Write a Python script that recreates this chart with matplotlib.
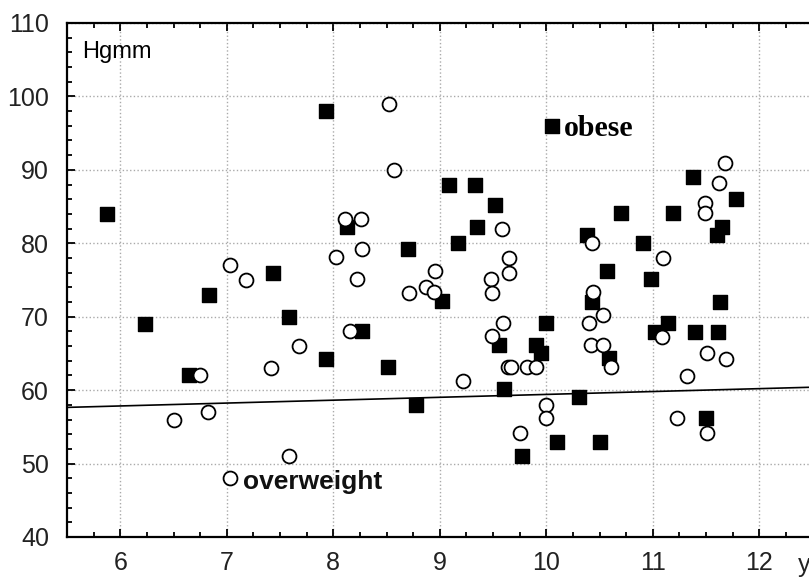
import numpy as np
import matplotlib.pyplot as plt
from matplotlib.ticker import MultipleLocator

# obese group (filled squares)
obese_x = [5.88, 6.23, 6.65, 6.83, 7.43, 7.58, 7.93, 7.93, 8.13, 8.27, 8.51, 8.70,
           8.78, 9.02, 9.09, 9.17, 9.33, 9.35, 9.52, 9.56, 9.60, 9.77, 9.90, 9.95,
           10.00, 10.05, 10.10, 10.31, 10.38, 10.43, 10.50, 10.57, 10.59, 10.70,
           10.91, 10.98, 11.02, 11.14, 11.19, 11.38, 11.40, 11.50, 11.60, 11.61,
           11.63, 11.65, 11.78]
obese_y = [84, 69, 62, 73, 76, 70, 64.2, 98, 82.2, 68, 63.2, 79.2,
           58, 72.1, 88, 80, 88, 82.2, 85.2, 66.2, 60.1, 51, 66.2, 65.1,
           69.1, 96, 53, 59.1, 81.1, 72, 53, 76.2, 64.4, 84.1,
           80, 75.1, 67.9, 69.1, 84.1, 89, 67.9, 56.2, 81.1, 67.9,
           72, 82.2, 86]

# overweight group (open circles)
over_x = [6.50, 6.75, 6.82, 7.03, 7.03, 7.18, 7.42, 7.58, 7.68, 8.03, 8.11, 8.16,
          8.22, 8.26, 8.27, 8.52, 8.57, 8.71, 8.87, 8.95, 8.96, 9.22, 9.48, 9.49,
          9.49, 9.58, 9.59, 9.64, 9.65, 9.65, 9.67, 9.75, 9.82, 9.90, 10.00, 10.00,
          10.40, 10.43, 10.42, 10.44, 10.53, 10.53, 10.61, 11.10, 11.09, 11.23,
          11.32, 11.49, 11.49, 11.51, 11.51, 11.62, 11.68, 11.69]
over_y = [56, 62, 57, 77, 48, 75, 63, 51, 66, 78.1, 83.3, 68,
          75.1, 83.3, 79.2, 99, 90, 73.2, 74, 73.4, 76.2, 61.2, 75.2, 73.2,
          67.4, 82, 69.1, 63.2, 78, 76, 63.2, 54.2, 63.2, 63.2, 58, 56.2,
          69.1, 80, 66.1, 73.3, 70.2, 66.1, 63.2, 78, 67.2, 56.2,
          61.9, 85.5, 84.1, 65, 54.2, 88.2, 91, 64.2]

# regression line end points
line_x = [5.5, 12.5]
line_y = [57.65, 60.4]

fig = plt.figure(figsize=(8.09, 5.88), dpi=100)
ax = fig.add_axes([67/809, 51/588, 745.5/809, 514/588])

ax.plot(line_x, line_y, color='black', lw=1.2, zorder=2)
ax.scatter(obese_x, obese_y, marker='s', s=112, color='black', zorder=3)
ax.scatter(over_x, over_y, marker='o', s=100, facecolor='white',
           edgecolor='black', linewidth=1.3, zorder=4)

ax.set_xlim(5.5, 12.5)
ax.set_ylim(40, 110)
ax.xaxis.set_major_locator(MultipleLocator(1))
ax.xaxis.set_minor_locator(MultipleLocator(0.25))
ax.yaxis.set_major_locator(MultipleLocator(10))
ax.yaxis.set_minor_locator(MultipleLocator(2))
ax.set_xticks(range(6, 13))

ax.grid(True, which='major', linestyle=':', color='#aaaaaa', lw=1)
ax.set_axisbelow(True)

for side in ['left', 'bottom', 'top']:
    ax.spines[side].set_linewidth(1.6)
ax.spines['right'].set_visible(False)

ax.tick_params(which='both', direction='in', top=True, right=False, width=1.3)
ax.tick_params(which='major', length=6)
ax.tick_params(which='minor', length=3.5)
ax.tick_params(axis='both', labelsize=18, colors='black', labelcolor='#222222')
ax.tick_params(axis='x', pad=10)
ax.tick_params(axis='y', pad=13)
for lab in ax.get_xticklabels() + ax.get_yticklabels():
    lab.set_family('Liberation Sans')

ax.text(5.64, 105.2, 'Hgmm', fontsize=17, family='Liberation Sans', va='baseline')
ax.text(10.17, 94.6, 'obese', fontsize=21.5, family='Liberation Serif',
        fontweight='bold', va='baseline')
ax.text(7.155, 46.5, 'overweight', fontsize=19, family=['Liberation Sans', 'DejaVu Sans'],
        fontweight='bold', va='baseline', color='#111111')
ax.text(12.36, 36.2, 'y', fontsize=18, family='Liberation Sans', va='center',
        color='#222222', clip_on=False)

plt.savefig('out.png', dpi=100)
